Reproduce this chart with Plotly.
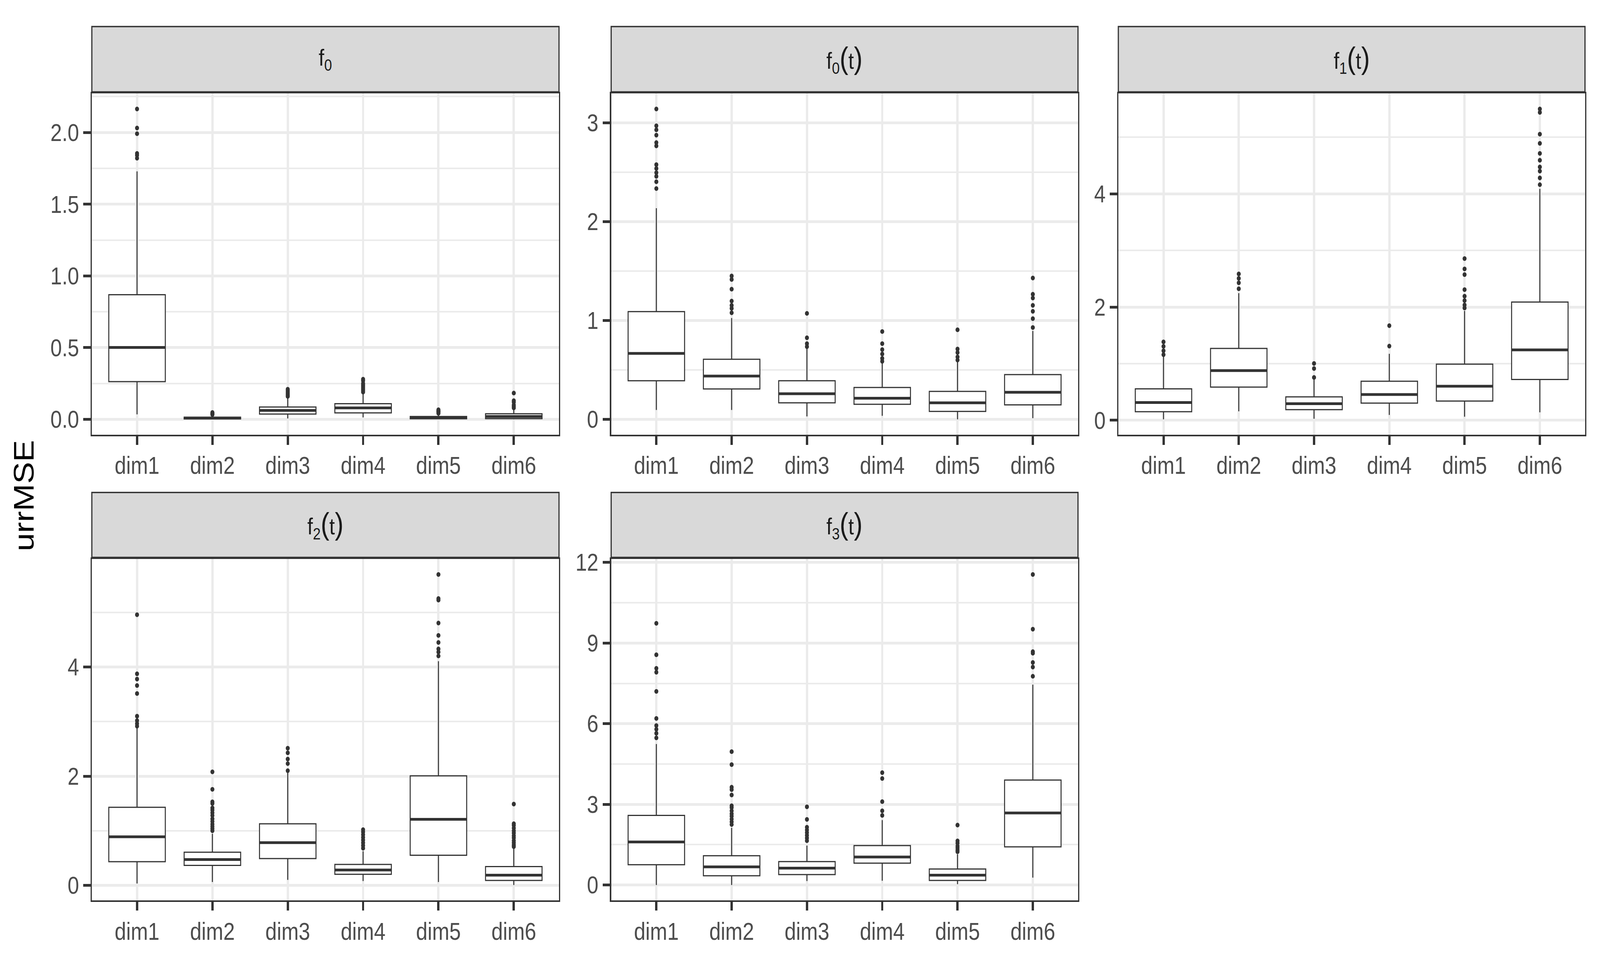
import plotly.graph_objects as go
from plotly.subplots import make_subplots

dims = ['dim1', 'dim2', 'dim3', 'dim4', 'dim5', 'dim6']

# --- f0 ---
f0_q1 = [0.263, 0.003, 0.037, 0.045, 0.004, 0.005]
f0_med = [0.501, 0.008, 0.062, 0.080, 0.011, 0.020]
f0_q3 = [0.869, 0.015, 0.086, 0.109, 0.020, 0.039]
f0_lo = [0.035, 0.0, 0.006, 0.014, 0.0, 0.0]
f0_hi = [1.729, 0.028, 0.150, 0.180, 0.038, 0.072]
f0_out = [[2.164, 2.031, 1.992, 1.854, 1.842, 1.821],
          [0.033, 0.038, 0.042, 0.048],
          [0.16, 0.17, 0.18, 0.19, 0.20, 0.21],
          [0.19, 0.20, 0.21, 0.22, 0.23, 0.24, 0.25, 0.27, 0.28],
          [0.042, 0.05, 0.055, 0.06, 0.067],
          [0.08, 0.09, 0.10, 0.12, 0.13, 0.183]]

# --- f0(t) ---
f0t_q1 = [0.390, 0.307, 0.167, 0.152, 0.080, 0.146]
f0t_med = [0.667, 0.438, 0.259, 0.214, 0.167, 0.274]
f0t_q3 = [1.090, 0.608, 0.390, 0.322, 0.283, 0.453]
f0t_lo = [0.095, 0.095, 0.030, 0.036, 0.0, 0.012]
f0t_hi = [2.136, 1.025, 0.727, 0.572, 0.581, 0.894]
f0t_out = [[3.14, 2.97, 2.93, 2.875, 2.80, 2.767, 2.577, 2.538, 2.496, 2.458, 2.404, 2.335],
           [1.451, 1.415, 1.317, 1.197, 1.153, 1.123, 1.078],
           [1.072, 0.825, 0.766, 0.735],
           [0.888, 0.766, 0.706, 0.661, 0.617, 0.587],
           [0.906, 0.712, 0.676, 0.632, 0.600],
           [1.430, 1.266, 1.227, 1.153, 1.093, 1.019, 0.929]]

# --- f1(t) ---
f1t_q1 = [0.151, 0.585, 0.188, 0.303, 0.339, 0.721]
f1t_med = [0.313, 0.877, 0.292, 0.454, 0.601, 1.243]
f1t_q3 = [0.554, 1.269, 0.413, 0.689, 0.992, 2.089]
f1t_lo = [0.016, 0.157, 0.026, 0.094, 0.063, 0.141]
f1t_hi = [1.175, 2.245, 0.731, 1.175, 1.932, 4.089]
f1t_out = [[1.384, 1.305, 1.227, 1.159],
           [2.585, 2.507, 2.428, 2.324],
           [1.003, 0.914, 0.757],
           [1.671, 1.311],
           [2.856, 2.674, 2.574, 2.308, 2.193, 2.115, 2.037, 1.984],
           [5.50, 5.44, 5.055, 4.893, 4.715, 4.595, 4.475, 4.402, 4.282, 4.162]]

# --- f2(t) ---
f2t_q1 = [0.434, 0.366, 0.490, 0.203, 0.552, 0.090]
f2t_med = [0.890, 0.473, 0.783, 0.282, 1.211, 0.186]
f2t_q3 = [1.431, 0.608, 1.127, 0.383, 2.006, 0.344]
f2t_lo = [0.034, 0.062, 0.101, 0.079, 0.062, 0.006]
f2t_hi = [2.907, 0.946, 2.062, 0.625, 4.107, 0.699]
f2t_out = [[4.958, 3.876, 3.780, 3.662, 3.515, 3.099, 3.020, 2.963, 2.918],
           [2.08, 1.76, 1.53, 1.50, 1.42, 1.38, 1.33, 1.28, 1.22, 1.17, 1.12, 1.08, 1.04, 1.00],
           [2.513, 2.428, 2.315, 2.231, 2.101],
           [1.02, 0.98, 0.93, 0.88, 0.83, 0.78, 0.73, 0.68],
           [5.696, 5.256, 5.228, 4.806, 4.580, 4.451, 4.332, 4.276, 4.203],
           [1.49, 1.13, 1.10, 1.05, 1.00, 0.96, 0.91, 0.87, 0.82, 0.78, 0.74, 0.71]]

# --- f3(t) ---
f3t_q1 = [0.756, 0.344, 0.389, 0.813, 0.172, 1.420]
f3t_med = [1.603, 0.676, 0.630, 1.042, 0.366, 2.680]
f3t_q3 = [2.588, 1.088, 0.870, 1.466, 0.595, 3.905]
f3t_lo = [0.0, 0.0, 0.149, 0.160, 0.034, 0.275]
f3t_hi = [5.244, 2.130, 1.466, 2.416, 1.145, 7.454]
f3t_out = [[9.733, 8.565, 8.061, 7.913, 7.203, 6.195, 5.93, 5.794, 5.645, 5.473],
           [4.96, 4.48, 3.64, 3.55, 3.35, 2.95, 2.88, 2.76, 2.65, 2.56, 2.45, 2.35, 2.25],
           [2.91, 2.44, 2.15, 2.05, 1.95, 1.85, 1.75, 1.65],
           [4.180, 3.962, 3.103, 2.760, 2.588],
           [2.23, 1.64, 1.56, 1.45, 1.38, 1.30, 1.24],
           [11.55, 9.516, 8.680, 8.622, 8.279, 8.107, 7.764]]

f0_ticks = [0.0, 0.5, 1.0, 1.5, 2.0]
f0_labels = ['0.0', '0.5', '1.0', '1.5', '2.0']
f0t_ticks = [0, 1, 2, 3]
f1t_ticks = [0, 2, 4]
f2t_ticks = [0, 2, 4]
f3t_ticks = [0, 3, 6, 9, 12]

P = '<span style="font-size:78px">'
titles = ['f<sub>0</sub>',
          'f<sub>0</sub>' + P + '(</span>t' + P + ')</span>',
          'f<sub>1</sub>' + P + '(</span>t' + P + ')</span>',
          'f<sub>2</sub>' + P + '(</span>t' + P + ')</span>',
          'f<sub>3</sub>' + P + '(</span>t' + P + ')</span>']

panels = [
    (f0_q1, f0_med, f0_q3, f0_lo, f0_hi, f0_out, f0_ticks, f0_labels),
    (f0t_q1, f0t_med, f0t_q3, f0t_lo, f0t_hi, f0t_out, f0t_ticks, None),
    (f1t_q1, f1t_med, f1t_q3, f1t_lo, f1t_hi, f1t_out, f1t_ticks, None),
    (f2t_q1, f2t_med, f2t_q3, f2t_lo, f2t_hi, f2t_out, f2t_ticks, None),
    (f3t_q1, f3t_med, f3t_q3, f3t_lo, f3t_hi, f3t_out, f3t_ticks, None),
]

W, H = 4800, 2450
col_px = [(275.5, 1677), (1833.5, 3234), (3355, 4755)]
row_px = [(216.5, 1099.5, 43.5, 212.5), (1420.5, 2304, 1248.5, 1416.5)]

FONT = 'Liberation Sans, Arial, sans-serif'
DARK = '#333333'
GRID = '#EBEBEB'

fig = make_subplots(rows=2, cols=3)

for p, (q1, med, q3, lo, hi, outs, ticks, labels) in enumerate(panels):
    r, c = divmod(p, 3)
    # boxes
    fig.add_trace(go.Box(x=dims, q1=q1, median=med, q3=q3, lowerfence=lo, upperfence=hi,
                         width=0.75, whiskerwidth=0, boxpoints=False,
                         fillcolor='white', line=dict(color=DARK, width=3)),
                  row=r + 1, col=c + 1)
    # thick median
    fig.add_trace(go.Box(x=dims, q1=med, median=med, q3=med, lowerfence=med, upperfence=med,
                         width=0.75, whiskerwidth=0, boxpoints=False,
                         fillcolor='white', line=dict(color=DARK, width=7)),
                  row=r + 1, col=c + 1)
    # outliers
    for d, vals in zip(dims, outs):
        fig.add_trace(go.Scatter(x=[d] * len(vals), y=vals, mode='markers',
                                 marker=dict(color=DARK, size=12, line=dict(width=0))),
                      row=r + 1, col=c + 1)

    lo_all = min(lo + [v for o in outs for v in o])
    hi_all = max(hi + [v for o in outs for v in o])
    pad = 0.05 * (hi_all - lo_all)
    yr = [lo_all - pad, hi_all + pad]
    step = ticks[1] - ticks[0]
    minors = [ticks[0] - step / 2 + k * step for k in range(len(ticks) + 2)]
    minors = [m for m in minors if yr[0] <= m <= yr[1]]

    n = p + 1
    xa = 'xaxis' if n == 1 else f'xaxis{n}'
    ya = 'yaxis' if n == 1 else f'yaxis{n}'
    x0, x1 = col_px[c]
    top, bot, s_top, s_bot = row_px[r]
    fig.update_layout({
        xa: dict(domain=[x0 / W, x1 / W], type='category', categoryorder='array',
                 categoryarray=dims, range=[-0.6, 5.6],
                 showgrid=True, gridcolor=GRID, gridwidth=7, zeroline=False,
                 ticks='outside', ticklen=22, tickwidth=7, tickcolor=DARK,
                 showline=True, linecolor=DARK, linewidth=3.5, mirror=True,
                 tickfont=dict(family=FONT, size=62, color='#4D4D4D')),
        ya: dict(domain=[1 - bot / H, 1 - top / H], range=yr,
                 tickmode='array', tickvals=ticks,
                 ticktext=labels if labels else [str(t) for t in ticks],
                 showgrid=True, gridcolor=GRID, gridwidth=7, zeroline=False,
                 minor=dict(tickmode='array', tickvals=minors, showgrid=True,
                            gridcolor=GRID, gridwidth=3.5, ticklen=0),
                 ticks='outside', ticklen=22, tickwidth=7, tickcolor=DARK,
                 showline=True, linecolor=DARK, linewidth=3.5, mirror=True,
                 tickfont=dict(family=FONT, size=62, color='#4D4D4D')),
    })
    # strip
    fig.add_shape(type='rect', xref='paper', yref='paper',
                  x0=x0 / W, x1=x1 / W, y0=1 - s_bot / H, y1=1 - s_top / H,
                  fillcolor='#D9D9D9', line=dict(color=DARK, width=3.5), layer='above')
    fig.add_annotation(text=titles[p], xref='paper', yref='paper',
                       x=(x0 + x1) / 2 / W, y=1 - (s_top + s_bot) / 2 / H,
                       xanchor='center', yanchor='middle', showarrow=False,
                       font=dict(family=FONT, size=60, color='#1A1A1A'))

fig.update_layout(xaxis6=dict(visible=False), yaxis6=dict(visible=False))

fig.add_annotation(text='urrMSE', xref='paper', yref='paper', x=72 / W, y=1 - 1257 / H,
                   textangle=-90, xanchor='center', yanchor='middle', showarrow=False,
                   font=dict(family=FONT, size=84, color='black'))

fig.update_layout(width=W, height=H, margin=dict(l=0, r=0, t=0, b=0),
                  paper_bgcolor='white', plot_bgcolor='white', showlegend=False,
                  boxmode='overlay')

# stretch the 4800x2450 layout onto whatever viewport the page gets
fit_js = """
var gd = document.getElementById('{plot_id}');
document.body.style.margin = '0';
document.body.style.overflow = 'hidden';
var sx = window.innerWidth / 4800, sy = window.innerHeight / 2450;
gd.style.transformOrigin = '0 0';
gd.style.transform = 'scale(' + sx + ',' + sy + ')';
"""

fig.write_html('out.html', post_script=fit_js, config={'displayModeBar': False})
